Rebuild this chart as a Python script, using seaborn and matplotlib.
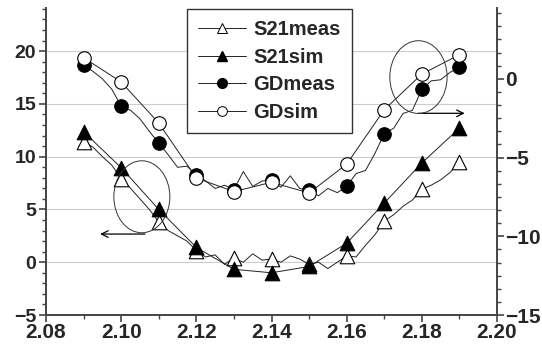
import numpy as np
import pandas as pd
import matplotlib
matplotlib.use("Agg")
import matplotlib.pyplot as plt
from matplotlib.patches import Ellipse
from matplotlib.lines import Line2D
from matplotlib.ticker import MultipleLocator
import seaborn as sns

# ========== DATA ==========
# frequencies of the plotted symbols
freq_marks = [2.09, 2.10, 2.11, 2.12, 2.13, 2.14, 2.15, 2.16, 2.17, 2.18, 2.19]
# finer frequency grid of the measured traces
freq_dense = [2.09, 2.0925, 2.095, 2.0975, 2.10, 2.1025, 2.105, 2.1075,
              2.11, 2.1125, 2.115, 2.1175, 2.12, 2.1225, 2.125, 2.1275,
              2.13, 2.1325, 2.135, 2.1375, 2.14, 2.1425, 2.145, 2.1475,
              2.15, 2.1525, 2.155, 2.1575, 2.16, 2.1625, 2.165, 2.1675,
              2.17, 2.1725, 2.175, 2.1775, 2.18, 2.1825, 2.185, 2.1875, 2.19]

# S21 (left axis)
s21_meas = [11.4, 10.9, 10.0, 9.2, 7.9, 7.0, 6.0, 5.0,
            3.8, 3.0, 2.5, 2.0, 1.1, 0.5, 0.7, -0.2,
            0.4, 0.0, 0.8, 0.2, 0.3, 0.0, 0.6, 0.3,
            -0.2, 0.0, -0.6, 0.0, 0.6, 0.5, 1.6, 2.6,
            3.9, 4.5, 5.3, 5.9, 6.9, 7.3, 7.8, 8.5, 9.5]
s21_sim = [12.36, 8.95, 5.0, 1.4, -0.67, -1.0, -0.4, 1.8, 5.6, 9.4, 12.7]

# group delay (right axis)
gd_meas = [0.88, 0.47, 0.00, -0.66, -1.74, -2.00, -2.54, -3.34,
           -4.08, -4.82, -5.62, -5.55, -6.09, -6.49, -6.96, -6.76,
           -7.03, -5.89, -6.83, -6.49, -6.42, -6.89, -6.16, -6.96,
           -7.09, -7.43, -6.96, -7.23, -6.83, -6.02, -5.82, -4.75,
           -3.48, -3.14, -2.20, -2.00, -0.66, -0.13, -0.06, 0.41, 0.74]
gd_sim = [1.34, -0.20, -2.81, -6.30, -7.16, -6.57, -7.25, -5.42, -1.96, 0.30, 1.53]

x_ticks = [2.08, 2.10, 2.12, 2.14, 2.16, 2.18, 2.20]
left_ticks = [-5, 0, 5, 10, 15, 20]
right_ticks = [-15, -10, -5, 0]

dense = pd.DataFrame({"f": freq_dense, "s21_meas": s21_meas, "gd_meas": gd_meas})
marks = pd.DataFrame({"f": freq_marks, "s21_sim": s21_sim, "gd_sim": gd_sim,
                      "s21_meas": s21_meas[::4], "gd_meas": gd_meas[::4]})

# ========== STYLE ==========
sns.set_style("white")
plt.rcParams['font.family'] = ['Liberation Sans', 'DejaVu Sans']
plt.rcParams['font.weight'] = 'bold'

LINE_C = "#222222"
LW = 0.7
SPINE_C = "#444444"

fig = plt.figure(figsize=(5.42, 3.53), dpi=100)
ax = fig.add_axes([0.0849, 0.1076, 0.8321, 0.8694])
ax2 = ax.twinx()

# ========== S21 on left axis ==========
sns.lineplot(data=dense, x="f", y="s21_meas", ax=ax, color=LINE_C, lw=LW)
sns.lineplot(data=marks, x="f", y="s21_sim", ax=ax, color=LINE_C, lw=LW)
sns.scatterplot(data=marks, x="f", y="s21_meas", ax=ax, marker="^", s=110,
                facecolor="white", edgecolor="black", linewidth=0.8, zorder=3)
sns.scatterplot(data=marks, x="f", y="s21_sim", ax=ax, marker="^", s=110,
                color="black", edgecolor="black", linewidth=0.8, zorder=4)

# ========== GD on right axis ==========
sns.lineplot(data=dense, x="f", y="gd_meas", ax=ax2, color=LINE_C, lw=LW)
sns.lineplot(data=marks, x="f", y="gd_sim", ax=ax2, color=LINE_C, lw=LW)
sns.scatterplot(data=marks, x="f", y="gd_meas", ax=ax2, marker="o", s=95,
                color="black", edgecolor="black", linewidth=0.8, zorder=3)
sns.scatterplot(data=marks, x="f", y="gd_sim", ax=ax2, marker="o", s=95,
                facecolor="white", edgecolor="black", linewidth=0.8, zorder=4)

# ========== AXES ==========
ax.set_xlim(2.08, 2.20)
ax.set_ylim(-5, 24.07)
ax2.set_ylim(-15, 4.49)
ax.set_xticks(x_ticks)
ax.set_xticklabels([f"{v:.2f}" for v in x_ticks])
ax.set_yticks(left_ticks)
ax2.set_yticks(right_ticks)
ax.xaxis.set_minor_locator(MultipleLocator(0.01))
ax.yaxis.set_minor_locator(MultipleLocator(1))
ax2.yaxis.set_minor_locator(MultipleLocator(5 / 6))
ax.set_xlabel("")
ax.set_ylabel("")
ax2.set_ylabel("")

for a in (ax, ax2):
    for side in a.spines:
        a.spines[side].set_color(SPINE_C)
        a.spines[side].set_linewidth(1.4)
    a.spines["top"].set_visible(False)
ax.spines["right"].set_visible(False)
ax2.spines["left"].set_visible(False)
ax2.spines["bottom"].set_visible(False)

ax.tick_params(axis="x", which="major", direction="out", length=5, width=1.2,
               color=SPINE_C, labelsize=15, pad=1, bottom=True)
ax.tick_params(axis="x", which="minor", direction="out", length=3, width=1.0,
               color=SPINE_C, bottom=True)
ax.tick_params(axis="y", which="major", direction="out", length=5, width=1.2,
               color=SPINE_C, labelsize=14, pad=2, left=True)
ax.tick_params(axis="y", which="minor", direction="out", length=3, width=1.0,
               color=SPINE_C, left=True)
ax2.tick_params(axis="y", which="major", direction="out", length=5, width=1.2,
                color=SPINE_C, labelsize=15, pad=1, right=True)
ax2.tick_params(axis="y", which="minor", direction="out", length=3, width=1.0,
                color=SPINE_C, right=True)
for lab in ax.get_xticklabels() + ax.get_yticklabels() + ax2.get_yticklabels():
    lab.set_fontweight("bold")

ax.yaxis.grid(True, which="major", color="#cccccc", lw=0.8)
ax.set_axisbelow(True)

# ========== ELLIPSES + ARROWS ==========
ax.add_patch(Ellipse((2.1055, 6.2), 0.0149, 6.82, fill=False, ec="#333333", lw=0.7, zorder=5))
ax.annotate("", xy=(2.0944, 2.67), xytext=(2.1063, 2.67),
            arrowprops=dict(arrowstyle="->", color="black", lw=0.9,
                            shrinkA=0, shrinkB=0, mutation_scale=12))
ax2.add_patch(Ellipse((2.1791, 0.11), 0.01524, 4.62, fill=False, ec="#333333", lw=0.7, zorder=5))
ax2.annotate("", xy=(2.1914, -2.19), xytext=(2.1790, -2.19),
             arrowprops=dict(arrowstyle="->", color="black", lw=0.9,
                             shrinkA=0, shrinkB=0, mutation_scale=12))

# ========== LEGEND ==========
handles = [
    Line2D([], [], color=LINE_C, lw=LW, marker="^", ms=7, mfc="white", mec="black", mew=0.7),
    Line2D([], [], color=LINE_C, lw=LW, marker="^", ms=7, mfc="black", mec="black"),
    Line2D([], [], color=LINE_C, lw=LW, marker="o", ms=7, mfc="black", mec="black"),
    Line2D([], [], color=LINE_C, lw=LW, marker="o", ms=7, mfc="white", mec="black", mew=0.7),
]
labels = ["S21meas", "S21sim", "GDmeas", "GDsim"]
leg = ax2.legend(handles, labels, loc="upper left", bbox_to_anchor=(0.3445, 0.9737),
                 bbox_transform=fig.transFigure, frameon=True, fancybox=False,
                 framealpha=1, edgecolor="#333333", handlelength=2.4,
                 handletextpad=0.35, labelspacing=0.42, borderpad=0.55,
                 borderaxespad=0, prop={"size": 14.5, "weight": "bold"})
leg.get_frame().set_linewidth(1.0)
leg.set_zorder(10)

fig.savefig("out.png", dpi=100)
